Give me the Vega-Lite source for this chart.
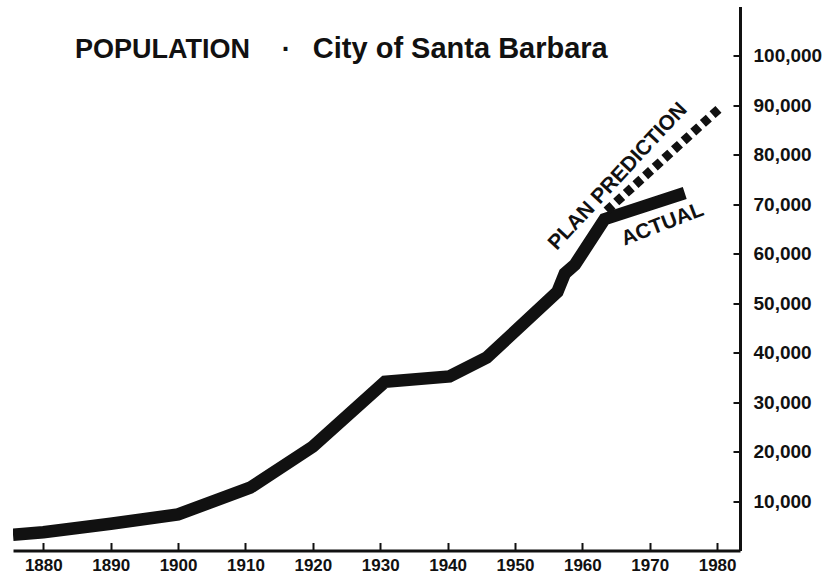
{
  "$schema": "https://vega.github.io/schema/vega-lite/v6.json",
  "width": 727,
  "height": 544,
  "autosize": {"type": "none"},
  "padding": {"left": 13, "top": 6.5, "right": 84, "bottom": 26.5},
  "background": "white",
  "config": {
    "view": {"stroke": null},
    "axis": {
      "grid": false,
      "domainColor": "#111",
      "domainWidth": 3,
      "tickColor": "#111",
      "tickWidth": 2,
      "labelColor": "#111",
      "labelFont": "Liberation Sans",
      "labelFontWeight": "bold",
      "labelFontSize": 17,
      "title": null
    }
  },
  "datasets": {
    "actual": [
      {"year": 1875.5, "population": 3200},
      {"year": 1880, "population": 3700},
      {"year": 1890, "population": 5400},
      {"year": 1900, "population": 7300},
      {"year": 1910.7, "population": 12700},
      {"year": 1920, "population": 21000},
      {"year": 1930.7, "population": 34100},
      {"year": 1940.3, "population": 35200},
      {"year": 1945.8, "population": 39000},
      {"year": 1956.3, "population": 52300},
      {"year": 1957.4, "population": 56000},
      {"year": 1958.9, "population": 57800},
      {"year": 1963.3, "population": 67000},
      {"year": 1975.2, "population": 72300}
    ],
    "prediction": [
      {"year": 1963.6, "population": 68700},
      {"year": 1980.6, "population": 89700}
    ],
    "title1": [
      {"label": "POPULATION", "year": 1884.7, "population": 99600},
      {"label": "·", "year": 1915.4, "population": 99600}
    ],
    "title2": [
      {"label": "City of Santa Barbara", "year": 1920.0, "population": 99600}
    ],
    "plan": [
      {"label": "PLAN PREDICTION", "year": 1965.3, "population": 75600}
    ],
    "act": [
      {"label": "ACTUAL", "year": 1971.9, "population": 65900}
    ]
  },
  "layer": [
    {
      "data": {"name": "actual"},
      "mark": {"type": "line", "clip": true, "strokeWidth": 12.5, "color": "#111", "strokeJoin": "miter", "strokeCap": "butt"},
      "encoding": {
        "x": {
          "field": "year",
          "type": "quantitative",
          "scale": {"domain": [1875.5, 1983.4], "nice": false, "zero": false},
          "axis": {
            "values": [1880, 1890, 1900, 1910, 1920, 1930, 1940, 1950, 1960, 1970, 1980],
            "format": "d",
            "tickSize": -8,
            "labelPadding": 15
          }
        },
        "y": {
          "field": "population",
          "type": "quantitative",
          "scale": {"domain": [0, 110000], "nice": false},
          "axis": {
            "orient": "right",
            "values": [10000, 20000, 30000, 40000, 50000, 60000, 70000, 80000, 90000, 100000],
            "format": ",.0f",
            "tickSize": -7,
            "labelPadding": 20,
            "labelAlign": "left",
            "labelFontSize": 19
          }
        }
      }
    },
    {
      "data": {"name": "prediction"},
      "mark": {"type": "line", "clip": true, "strokeWidth": 9, "color": "#111", "strokeDash": [8, 5], "strokeCap": "butt"},
      "encoding": {
        "x": {"field": "year", "type": "quantitative"},
        "y": {"field": "population", "type": "quantitative"}
      }
    },
    {
      "data": {"name": "title1"},
      "mark": {"type": "text", "align": "left", "baseline": "alphabetic", "font": "Liberation Sans", "fontWeight": "bold", "fontSize": 27, "color": "#111"},
      "encoding": {
        "x": {"field": "year", "type": "quantitative"},
        "y": {"field": "population", "type": "quantitative"},
        "text": {"field": "label"}
      }
    },
    {
      "data": {"name": "title2"},
      "mark": {"type": "text", "align": "left", "baseline": "alphabetic", "font": "Liberation Sans", "fontWeight": "bold", "fontSize": 29, "color": "#111"},
      "encoding": {
        "x": {"field": "year", "type": "quantitative"},
        "y": {"field": "population", "type": "quantitative"},
        "text": {"field": "label"}
      }
    },
    {
      "data": {"name": "plan"},
      "mark": {"type": "text", "align": "center", "baseline": "middle", "angle": -47, "font": "Liberation Sans", "fontWeight": "bold", "fontSize": 21, "color": "#111"},
      "encoding": {
        "x": {"field": "year", "type": "quantitative"},
        "y": {"field": "population", "type": "quantitative"},
        "text": {"field": "label"}
      }
    },
    {
      "data": {"name": "act"},
      "mark": {"type": "text", "align": "center", "baseline": "middle", "angle": -21, "font": "Liberation Sans", "fontWeight": "bold", "fontSize": 21, "color": "#111"},
      "encoding": {
        "x": {"field": "year", "type": "quantitative"},
        "y": {"field": "population", "type": "quantitative"},
        "text": {"field": "label"}
      }
    }
  ]
}
